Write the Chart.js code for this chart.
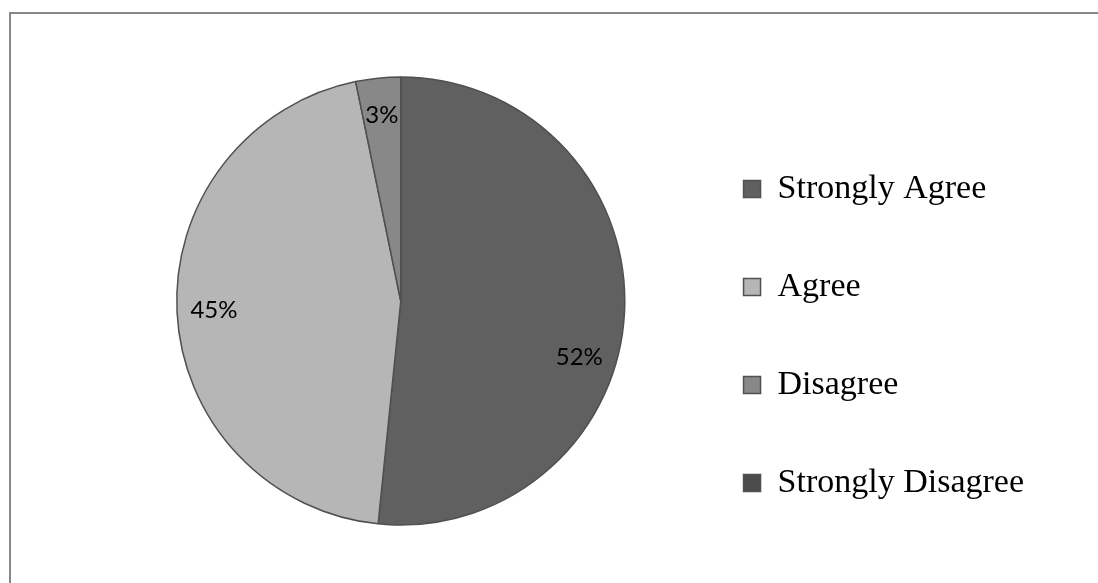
<!DOCTYPE html>
<html>
<head>
<meta charset="utf-8">
<script src="https://cdn.jsdelivr.net/npm/chart.js@4"></script>
<style>
  body { margin: 0; background: #fff; overflow: hidden; width: 1098px; height: 583px; position: relative; }
  #frame { position: absolute; left: 9px; top: 12px; right: -20px; bottom: -20px; border: 2px solid #878787; }
  #pie { position: absolute; left: 0; top: 0; display: block; }
</style>
</head>
<body>
<div id="frame"></div>
<canvas id="pie" width="1098" height="602"></canvas>
<script>
// survey answers (counts)
let categories = ["Strongly Agree", "Agree", "Disagree", "Strongly Disagree"];
let counts = [16, 14, 1, 0];
let colors = ["#606060", "#b6b6b6", "#888888", "#4c4c4c"];

/* percent labels on the slices */
const sliceLabels = {
    id: "sliceLabels",
    afterDatasetsDraw(chart, args, opts) {
        let ctx = chart.ctx;
        let data = chart.data.datasets[0].data;
        let total = data.reduce((s, v) => s + v, 0);
        let arcs = chart.getDatasetMeta(0).data;

        ctx.save();
        ctx.font = opts.font;
        ctx.fillStyle = opts.color;
        ctx.textAlign = "center";
        ctx.textBaseline = "middle";

        arcs.forEach((arc, i) => {
            if (!data[i]) return;
            let p = arc.getProps(["x", "y", "startAngle", "endAngle", "outerRadius"]);
            let a = (p.startAngle + p.endAngle) / 2 + (opts.nudge[i] || 0) * Math.PI / 180;
            let r = p.outerRadius * opts.at;
            let txt = Math.round(data[i] / total * 100) + "%";
            ctx.fillText(txt, p.x + Math.cos(a) * r, p.y + Math.sin(a) * r);
        });
        ctx.restore();
    }
};

new Chart(document.getElementById("pie"), {
    type: "pie",
    data: {
        labels: categories,
        datasets: [{
            data: counts,
            backgroundColor: colors,
            borderColor: "#505050",
            borderWidth: 1.5,
            radius: 224
        }]
    },
    options: {
        responsive: false,
        animation: false,
        events: [],
        layout: { padding: { left: 122, right: 64, top: 0, bottom: 0 } },
        plugins: {
            tooltip: { enabled: false },
            legend: {
                position: "right",
                title: { display: true, text: "", padding: 0, font: { size: 70, lineHeight: 1 } },
                labels: {
                    font: { family: "'Liberation Serif', 'Times New Roman', serif", size: 34 },
                    color: "#000",
                    boxWidth: 17,
                    boxHeight: 17,
                    padding: 64
                }
            },
            sliceLabels: {
                font: "24px Lato, 'Open Sans', sans-serif",
                color: "#000",
                at: 0.835,
                nudge: [14.5, 0, 0, 0]
            }
        }
    },
    plugins: [sliceLabels]
});
</script>
</body>
</html>
